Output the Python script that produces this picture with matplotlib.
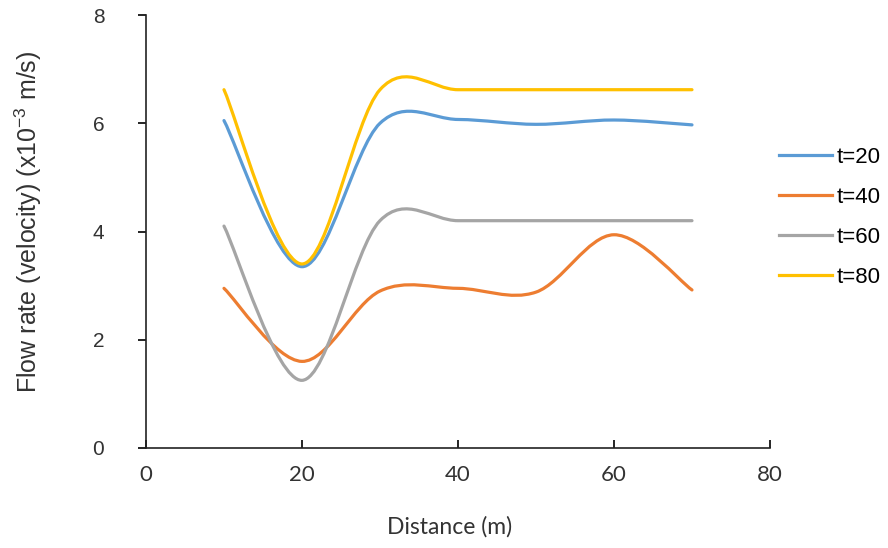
import numpy as np
import matplotlib
matplotlib.use("Agg")
import matplotlib.pyplot as plt
from matplotlib.path import Path
from matplotlib.patches import PathPatch
from matplotlib.lines import Line2D

plt.rcParams["font.family"] = ["Liberation Sans", "DejaVu Sans"]
plt.rcParams["mathtext.fontset"] = "custom"
plt.rcParams["mathtext.rm"] = "Liberation Sans"

distance = [10, 20, 30, 40, 50, 60, 70]
t20 = [6.05, 3.35, 6.0, 6.07, 5.98, 6.06, 5.97]
t40 = [2.95, 1.6, 2.9, 2.95, 2.88, 3.94, 2.92]
t60 = [4.1, 1.25, 4.2, 4.2, 4.2, 4.2, 4.2]
t80 = [6.62, 3.4, 6.62, 6.62, 6.62, 6.62, 6.62]

SERIES = [
    ("t=20", t20, "#5B9BD5"),
    ("t=40", t40, "#ED7D31"),
    ("t=60", t60, "#A5A5A5"),
    ("t=80", t80, "#FFC000"),
]
CALIBRI_ISH = ["Lato", "Liberation Sans", "DejaVu Sans"]


def smooth_path(x, y):
    """Excel-style smoothed line: cubic Bezier, controls at P1 +/- (P2-P0)/6."""
    pts = np.column_stack([x, y]).astype(float)
    n = len(pts)
    verts = [pts[0]]
    codes = [Path.MOVETO]
    for i in range(n - 1):
        p0 = pts[max(i - 1, 0)]
        p1 = pts[i]
        p2 = pts[i + 1]
        p3 = pts[min(i + 2, n - 1)]
        c1 = p1 + (p2 - p0) / 6
        c2 = p2 - (p3 - p1) / 6
        verts += [c1, c2, p2]
        codes += [Path.CURVE4] * 3
    return Path(verts, codes)


fig = plt.figure(figsize=(8.88, 5.48), dpi=100)
ax = fig.add_axes([0.1644, 0.1825, 0.7027, 0.7901])

handles = []
for label, vals, col in SERIES:
    patch = PathPatch(smooth_path(distance, vals), fill=False, edgecolor=col,
                      lw=2.3, capstyle="round", joinstyle="round")
    ax.add_patch(patch)
    handles.append(Line2D([], [], color=col, lw=2.3, label=label))

ax.set_xlim(0, 80)
ax.set_ylim(0, 8)
ax.set_xticks([0, 20, 40, 60, 80])
ax.set_yticks([0, 2, 4, 6, 8])
ax.spines["top"].set_visible(False)
ax.spines["right"].set_visible(False)
for s in ("left", "bottom"):
    ax.spines[s].set_linewidth(1.2)
    ax.spines[s].set_color("#222222")
ax.tick_params(axis="y", direction="out", length=6, width=1.2, labelsize=15,
               pad=24, labelcolor="#333333")
ax.tick_params(axis="x", direction="in", length=6, width=1.2, labelsize=15,
               pad=12, labelcolor="#333333")
for lab in ax.get_xticklabels():
    lab.set_family(CALIBRI_ISH)
    lab.set_fontsize(16)

fig.text(450 / 888, 1 - 527 / 548, "Distance (m)", fontsize=16.5,
         family=CALIBRI_ISH, ha="center", va="center", color="#333333")
fig.text(28 / 888, 1 - 222 / 548, r"Flow rate (velocity) (x10$^{-3}$ m/s)",
         fontsize=18, rotation=90, ha="center", va="center", color="#333333")

ax.legend(handles=handles, loc="center left", bbox_to_anchor=(1.014, 0.533),
          frameon=False, fontsize=16, handlelength=2.4, handletextpad=0.2,
          labelspacing=0.85, borderaxespad=0, borderpad=0)

fig.savefig("out.png", dpi=100)
